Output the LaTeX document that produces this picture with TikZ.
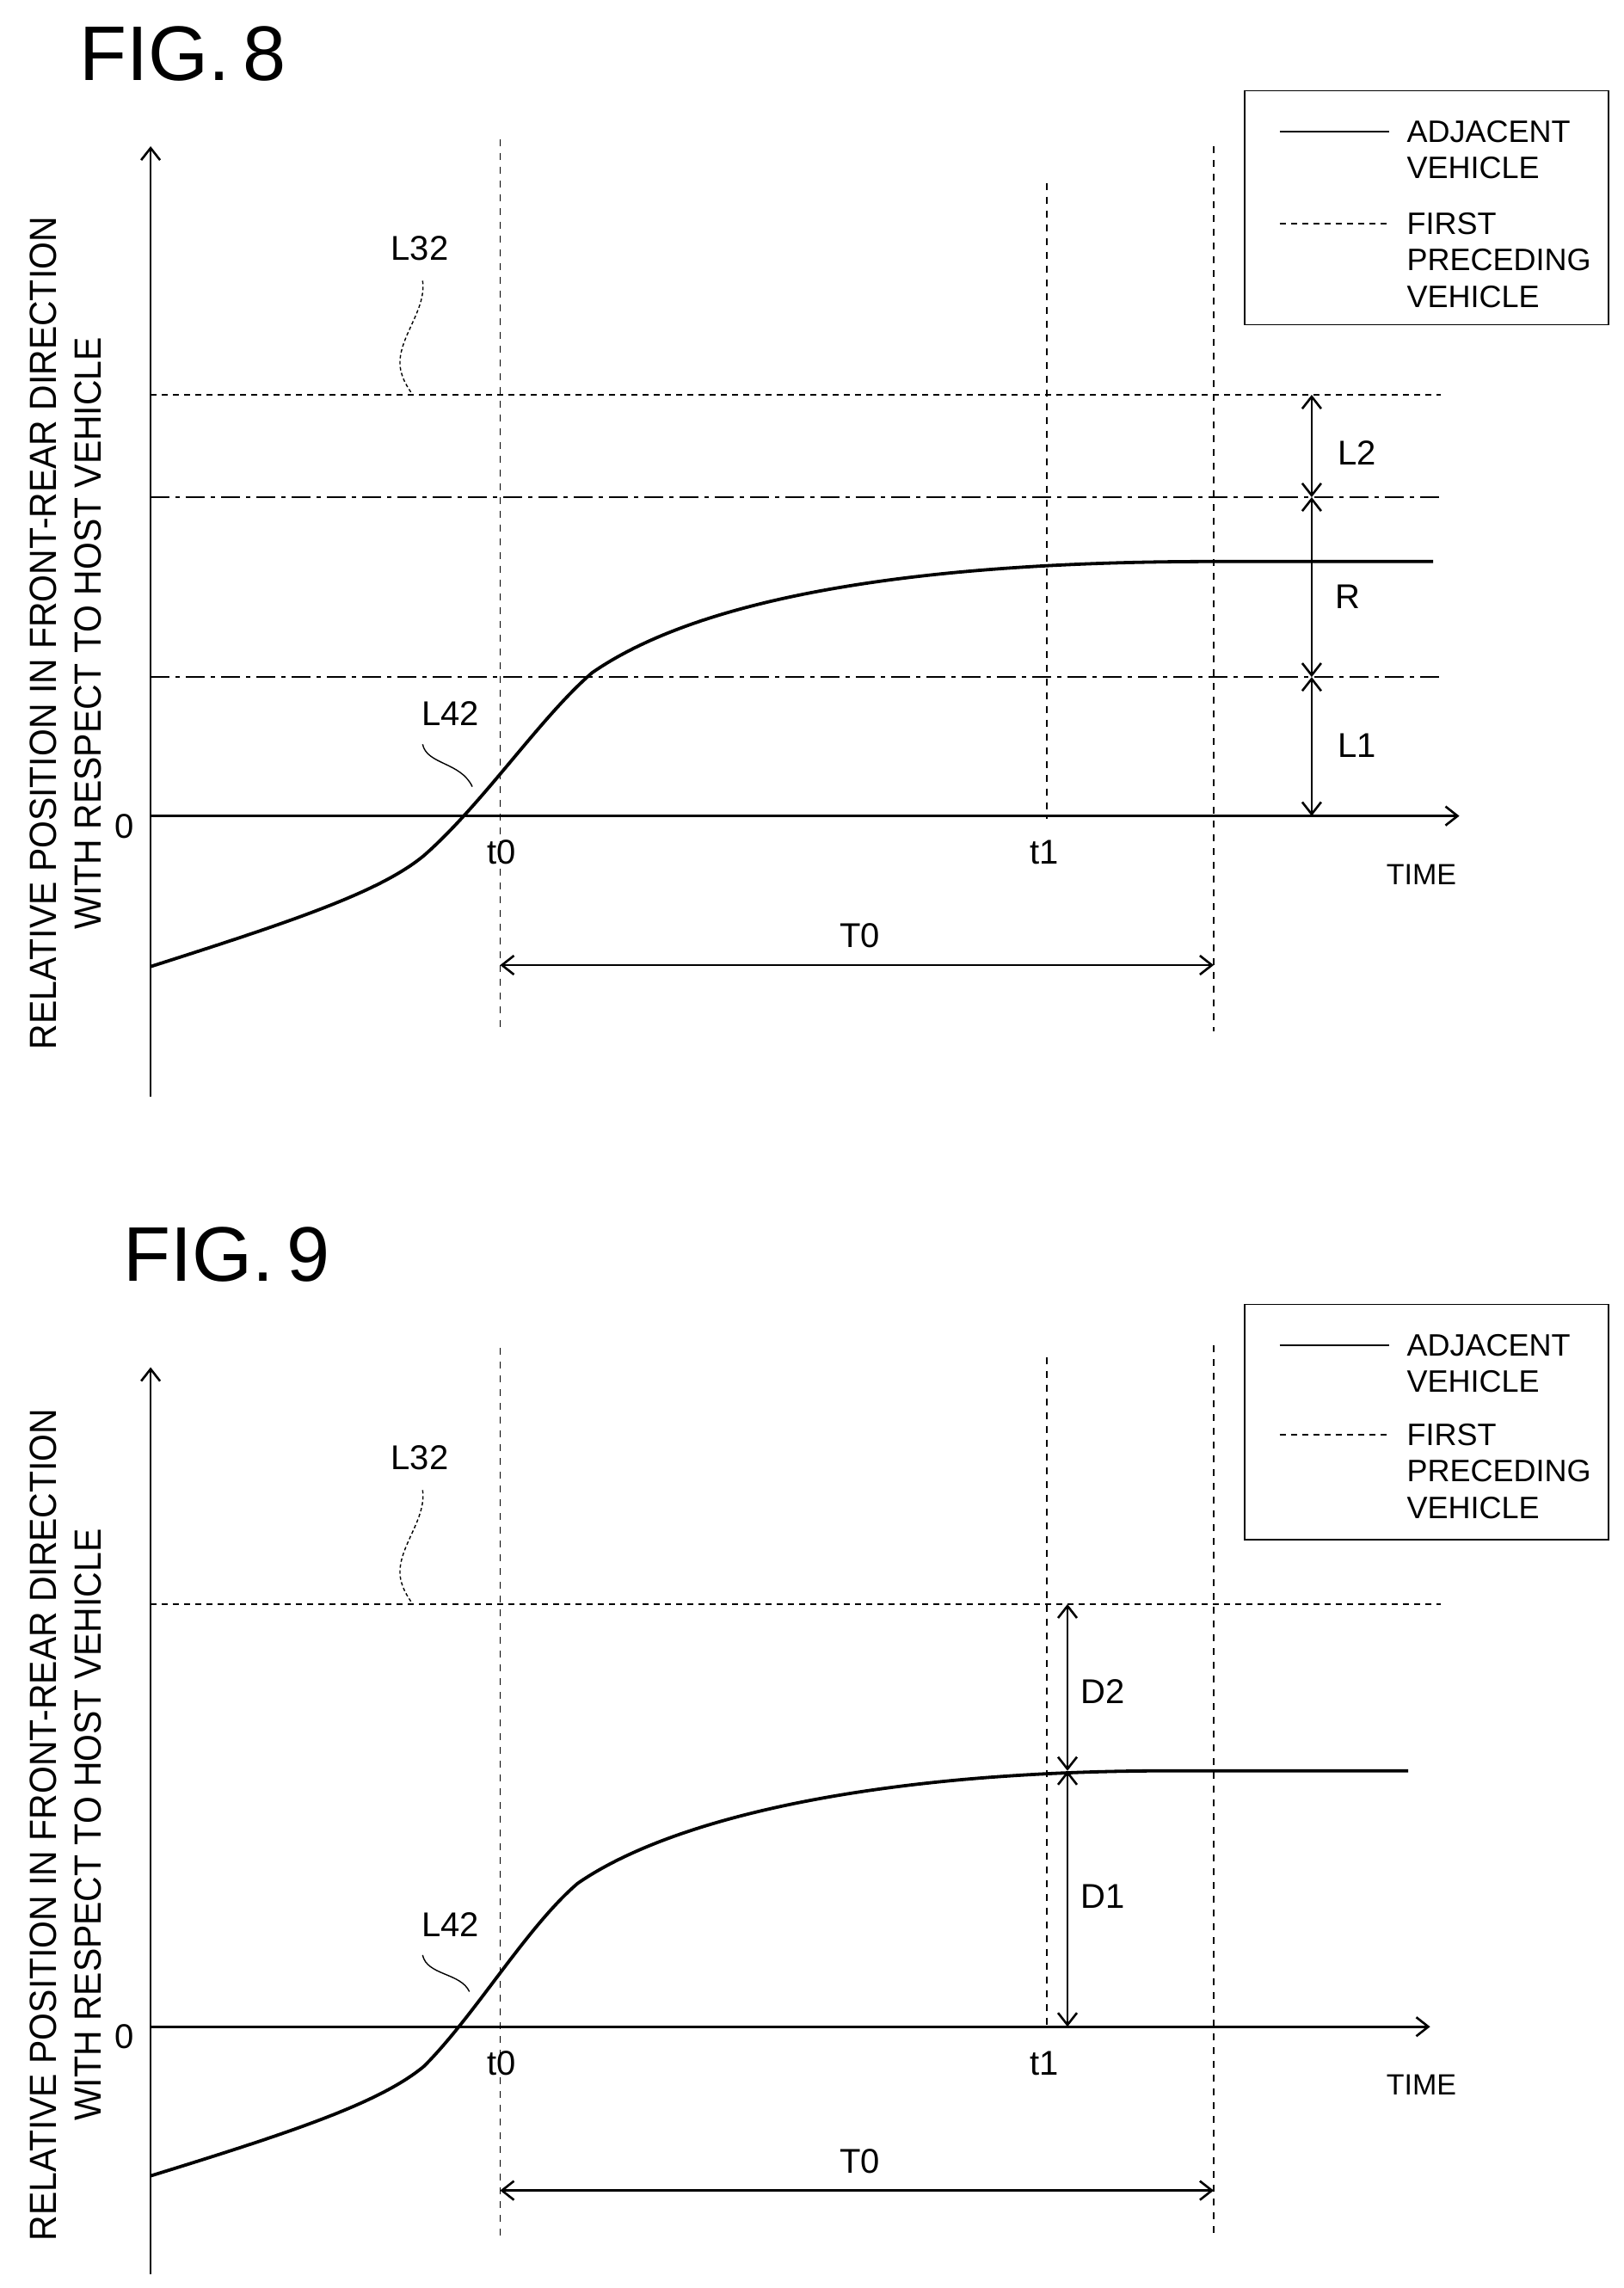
\documentclass[tikz,border=0pt]{standalone}
\usepackage{fontspec}
\setmainfont{Liberation Sans}
\usetikzlibrary{arrows.meta}
\begin{document}
\begin{tikzpicture}[x=1.7pt,y=-1.7pt,
  ax/.style={line width=2.6pt,-{Straight Barb[length=14pt,width=22pt,line width=2.6pt]}},
  dim/.style={line width=2.6pt,{Straight Barb[length=14pt,width=22pt,line width=2.6pt]}-{Straight Barb[length=14pt,width=22pt,line width=2.6pt]}},
  vdash/.style={line width=1.8pt,dash pattern=on 8pt off 8pt},
  pdash/.style={line width=1.8pt,dash pattern=on 7pt off 6pt},
  ddash/.style={line width=1.8pt,dash pattern=on 22pt off 7pt on 5pt off 7pt},
  curve/.style={line width=3.8pt},
  lbl/.style={font=\fontsize{40}{44}\selectfont,inner sep=0pt},
  leg/.style={font=\fontsize{36}{42}\selectfont,inner sep=0pt,anchor=west},
  ttl/.style={font=\fontsize{90}{96}\selectfont,inner sep=0pt},
  ylab/.style={font=\fontsize{44}{52}\selectfont,inner sep=0pt,rotate=90,xscale=0.93,align=center}]
\useasboundingbox (0,0) rectangle (1110,1564.7);
\fill[white] (0,0) rectangle (1110,1564.7);
% ---------- FIG 8 ----------
\node[ttl] (t8) at (125,37) {FIG.\,8};
\begin{scope}[shift={(0,558)}]
\coordinate (o) at (103,0);
\coordinate (ytop) at (103,-458);
\coordinate (ybot) at (103,192);
\coordinate (xend) at (998,0);
\draw[ax] (ybot) -- (ytop);
\draw[ax] (o) -- (xend);
\node[ylab] (yl) at (45,-125) {RELATIVE POSITION IN FRONT-REAR DIRECTION\\WITH RESPECT TO HOST VEHICLE};
\node[lbl] (z) at (85,7) {0};
\node[lbl] (tz) at (343,25) {t0};
\node[lbl] (to) at (714,25) {t1};
\node[font=\fontsize{34}{40}\selectfont,inner sep=0pt] (tm) at (972,40) {TIME};
\coordinate (a1) at (342,-463); \coordinate (a2) at (342,147);
\coordinate (b1) at (716,-433); \coordinate (b2) at (716,2);
\coordinate (c1) at (830,-458); \coordinate (c2) at (830,147);
\draw[vdash] (a1) -- (a2); \draw[vdash] (b1) -- (b2); \draw[vdash] (c1) -- (c2);
\coordinate (p1) at (103,-288); \coordinate (p2) at (985,-288);
\draw[pdash] (p1) -- (p2);
\coordinate (q1) at (103,-218); \coordinate (q2) at (985,-218);
\draw[ddash] (q1) -- (q2);
\coordinate (r1) at (103,-95); \coordinate (r2) at (985,-95);
\draw[ddash] (r1) -- (r2);
\draw[curve] (103,103) .. controls (200,72) and (260,52) .. (290,27) .. controls (330,-8) and (370,-68) .. (405,-98) .. controls (470,-143) and (600,-174) .. (830,-174) -- (980,-174);
\coordinate (d0) at (897,0); \coordinate (d1) at (897,-95); \coordinate (d2) at (897,-218); \coordinate (d3) at (897,-288);
\draw[dim] (d0) -- (d1); \draw[dim] (d1) -- (d2); \draw[dim] (d2) -- (d3);
\node[lbl] (nl2) at (928,-248) {L2};
\node[lbl] (nr) at (922,-150) {R};
\node[lbl] (nl1) at (928,-48) {L1};
\coordinate (e1) at (342,102); \coordinate (e2) at (830,102);
\draw[dim] (e1) -- (e2);
\node[lbl] (nt0) at (588,82) {T0};
\node[lbl] (n32) at (287,-388) {L32};
\draw[line width=1.4pt,dash pattern=on 4pt off 3pt] (289,-366) .. controls (292,-345) and (270,-325) .. (274,-305) .. controls (276,-296) and (280,-292) .. (282,-288);
\node[lbl] (n42) at (308,-70) {L42};
\draw[line width=1.4pt] (289,-49) .. controls (292,-35) and (315,-37) .. (323,-20);
\node[draw,line width=1.8pt,minimum width=249*1.7pt,minimum height=160*1.7pt] (lg) at (975.5,-416) {};
\coordinate (s1) at (875,-468); \coordinate (s2) at (950,-468);
\draw[line width=2.6pt] (s1) -- (s2);
\coordinate (u1) at (875,-405); \coordinate (u2) at (950,-405);
\draw[pdash] (u1) -- (u2);
\node[leg] (la) at (962,-468) {ADJACENT};
\node[leg] (lb) at (962,-443) {VEHICLE};
\node[leg] (lc) at (962,-405) {FIRST};
\node[leg] (ld) at (962,-380) {PRECEDING};
\node[leg] (le) at (962,-355) {VEHICLE};
\end{scope}
% ---------- FIG 9 ----------
\node[ttl] (t9) at (155,858) {FIG.\,9};
\begin{scope}[shift={(0,1386)}]
\coordinate (o) at (103,0);
\coordinate (ytop) at (103,-451);
\coordinate (ybot) at (103,169);
\coordinate (xend) at (978,0);
\draw[ax] (ybot) -- (ytop);
\draw[ax] (o) -- (xend);
\node[ylab] (yl) at (45,-138) {RELATIVE POSITION IN FRONT-REAR DIRECTION\\WITH RESPECT TO HOST VEHICLE};
\node[lbl] (z) at (85,7) {0};
\node[lbl] (tz) at (343,25) {t0};
\node[lbl] (to) at (714,25) {t1};
\node[font=\fontsize{34}{40}\selectfont,inner sep=0pt] (tm) at (972,40) {TIME};
\coordinate (a1) at (342,-464); \coordinate (a2) at (342,144);
\coordinate (b1) at (716,-458); \coordinate (b2) at (716,2);
\coordinate (c1) at (830,-466); \coordinate (c2) at (830,144);
\draw[vdash] (a1) -- (a2); \draw[vdash] (b1) -- (b2); \draw[vdash] (c1) -- (c2);
\coordinate (p1) at (103,-289); \coordinate (p2) at (985,-289);
\draw[pdash] (p1) -- (p2);
\draw[curve] (103,102) .. controls (200,72) and (260,52) .. (290,27) .. controls (325,-8) and (360,-68) .. (395,-98) .. controls (460,-143) and (600,-175) .. (800,-175) -- (963,-175);
\coordinate (d0) at (730,0); \coordinate (d1) at (730,-175); \coordinate (d2) at (730,-289);
\draw[dim] (d0) -- (d1); \draw[dim] (d1) -- (d2);
\node[lbl] (nd2) at (754,-229) {D2};
\node[lbl] (nd1) at (754,-89) {D1};
\coordinate (e1) at (342,112); \coordinate (e2) at (830,112);
\draw[dim] (e1) -- (e2);
\node[lbl] (nt0) at (588,92) {T0};
\node[lbl] (n32) at (287,-389) {L32};
\draw[line width=1.4pt,dash pattern=on 4pt off 3pt] (289,-367) .. controls (292,-346) and (270,-326) .. (274,-306) .. controls (276,-297) and (280,-293) .. (282,-289);
\node[lbl] (n42) at (308,-70) {L42};
\draw[line width=1.4pt] (289,-49) .. controls (292,-35) and (315,-37) .. (321,-24);
\node[draw,line width=1.8pt,minimum width=249*1.7pt,minimum height=161*1.7pt] (lg) at (975.5,-413.5) {};
\coordinate (s1) at (875,-466); \coordinate (s2) at (950,-466);
\draw[line width=2.6pt] (s1) -- (s2);
\coordinate (u1) at (875,-405); \coordinate (u2) at (950,-405);
\draw[pdash] (u1) -- (u2);
\node[leg] (la) at (962,-466) {ADJACENT};
\node[leg] (lb) at (962,-441) {VEHICLE};
\node[leg] (lc) at (962,-405) {FIRST};
\node[leg] (ld) at (962,-380) {PRECEDING};
\node[leg] (le) at (962,-355) {VEHICLE};
\end{scope}
\end{tikzpicture}
\end{document}
